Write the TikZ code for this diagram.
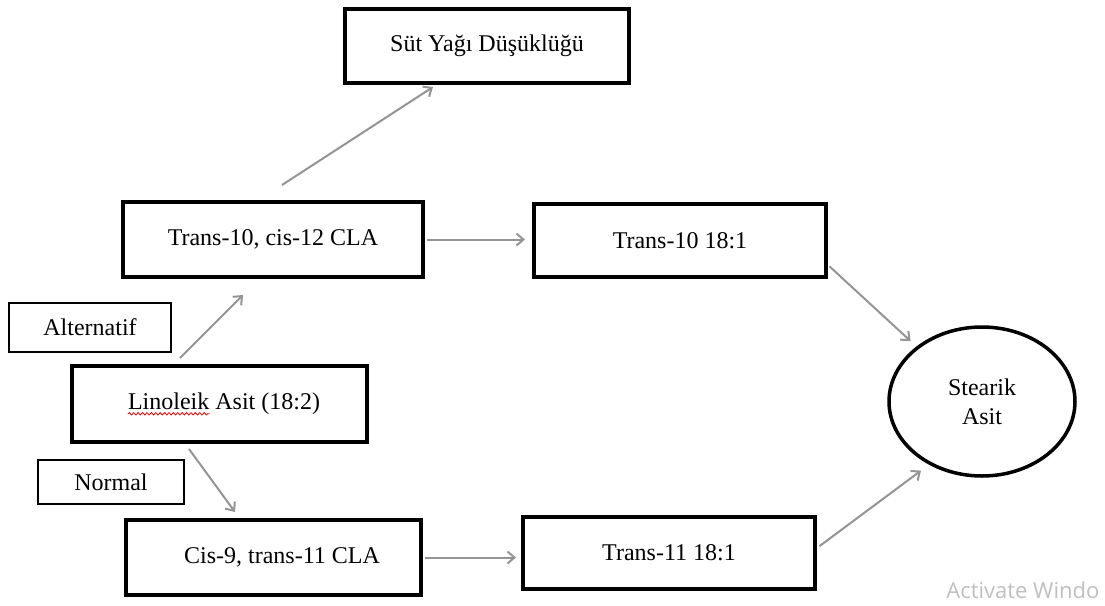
\documentclass[tikz,border=0pt]{standalone}
\usepackage{fontspec}
\setmainfont{Liberation Serif}
\newfontfamily\winfont{Open Sans}
\usetikzlibrary{arrows.meta,shapes.geometric,decorations.pathmorphing}

\begin{document}
\begin{tikzpicture}[x=0.5pt,y=-0.5pt,%%
  boxStyle/.style={draw,rectangle,line width=2pt,inner sep=0pt,font=\fontsize{12}{14.5}\selectfont},%%
  tagStyle/.style={draw,rectangle,line width=0.8pt,inner sep=0pt,font=\fontsize{12}{14.5}\selectfont},%%
  endStyle/.style={draw,ellipse,line width=1.75pt,inner sep=0pt,align=center,font=\fontsize{12}{14.5}\selectfont},%%
  arrowStyle/.style={-{Straight Barb[length=3.5pt,width=6pt]},line width=1pt,black!42},%%
  spellStyle/.style={red,line width=0.4pt,decorate,decoration={snake,amplitude=0.6pt,segment length=2.2pt}}
]
%%
%% Page size of the reference.
%%
\useasboundingbox (0,0) rectangle (1105,606);
\clip (0,0) rectangle (1105,606);
%%
%% The boxes.
%%
\node[boxStyle,minimum width=142pt,minimum height=37pt] (sut) at (487,46) {Süt Yağı Düşüklüğü};
\node[boxStyle,minimum width=150pt,minimum height=37.5pt] (t10c12) at (273,239.5) {Trans-10, cis-12 CLA};
\node[boxStyle,minimum width=146pt,minimum height=36.5pt] (t10) at (680,240.5) {Trans-10 18:1};
\node[tagStyle,minimum width=81.25pt,minimum height=24.75pt] (alt) at (90,327.5) {Alternatif};
\node[boxStyle,minimum width=147.5pt,minimum height=38pt] (lin) at (219.5,404) {\hspace*{4.5pt}Linoleik Asit (18:2)};
\node[tagStyle,minimum width=73.25pt,minimum height=22.25pt] (norm) at (111,482) {Normal};
\node[boxStyle,minimum width=147.5pt,minimum height=37.5pt] (c9t11) at (273.5,557.5) {\hspace*{8.5pt}Cis-9, trans-11 CLA};
\node[boxStyle,minimum width=146pt,minimum height=36pt] (t11) at (669,553) {Trans-11 18:1};
%% The end product.
\node[endStyle,minimum width=93pt,minimum height=74.5pt] (stearik) at (982,401.5) {Stearik\\Asit};
%% Spelling mark under the first word.
\draw[spellStyle] ([xshift=-45.75pt,yshift=-2pt]lin.base) -- ([xshift=-5pt,yshift=-2pt]lin.base);
%%
%% Alternatif route.
%%
\draw[arrowStyle] ([xshift=-19.75pt,yshift=3pt]lin.north) -- ([xshift=-15pt,yshift=-8pt]t10c12.south);
\draw[arrowStyle] ([xshift=4.5pt,yshift=7.5pt]t10c12.north) -- ([xshift=-27pt,yshift=-1pt]sut.south);
\draw[arrowStyle,shorten <=1pt,shorten >=3.5pt] (t10c12.east) -- (t10c12.east -| t10.west);
\draw[arrowStyle,shorten <=1pt,shorten >=4pt] ([yshift=-12.25pt]t10.east) -- (stearik.140);
%%
%% Normal route.
%%
\draw[arrowStyle] ([xshift=-15.25pt,yshift=-2.5pt]lin.south) -- ([xshift=-19.25pt,yshift=3pt]c9t11.north);
\draw[arrowStyle,shorten <=1pt,shorten >=2.5pt] (c9t11.east) -- (c9t11.east -| t11.west);
\draw[arrowStyle,shorten <=1.5pt,shorten >=5pt] ([yshift=2.5pt]t11.east) -- (stearik.230);
%%
%% Screen watermark.
%%
\node[font=\winfont\fontsize{11}{12}\selectfont,text=black!25,anchor=base west,inner sep=0pt] (wmark) at (946,598) {Activate Windo};
\end{tikzpicture}
\end{document}
